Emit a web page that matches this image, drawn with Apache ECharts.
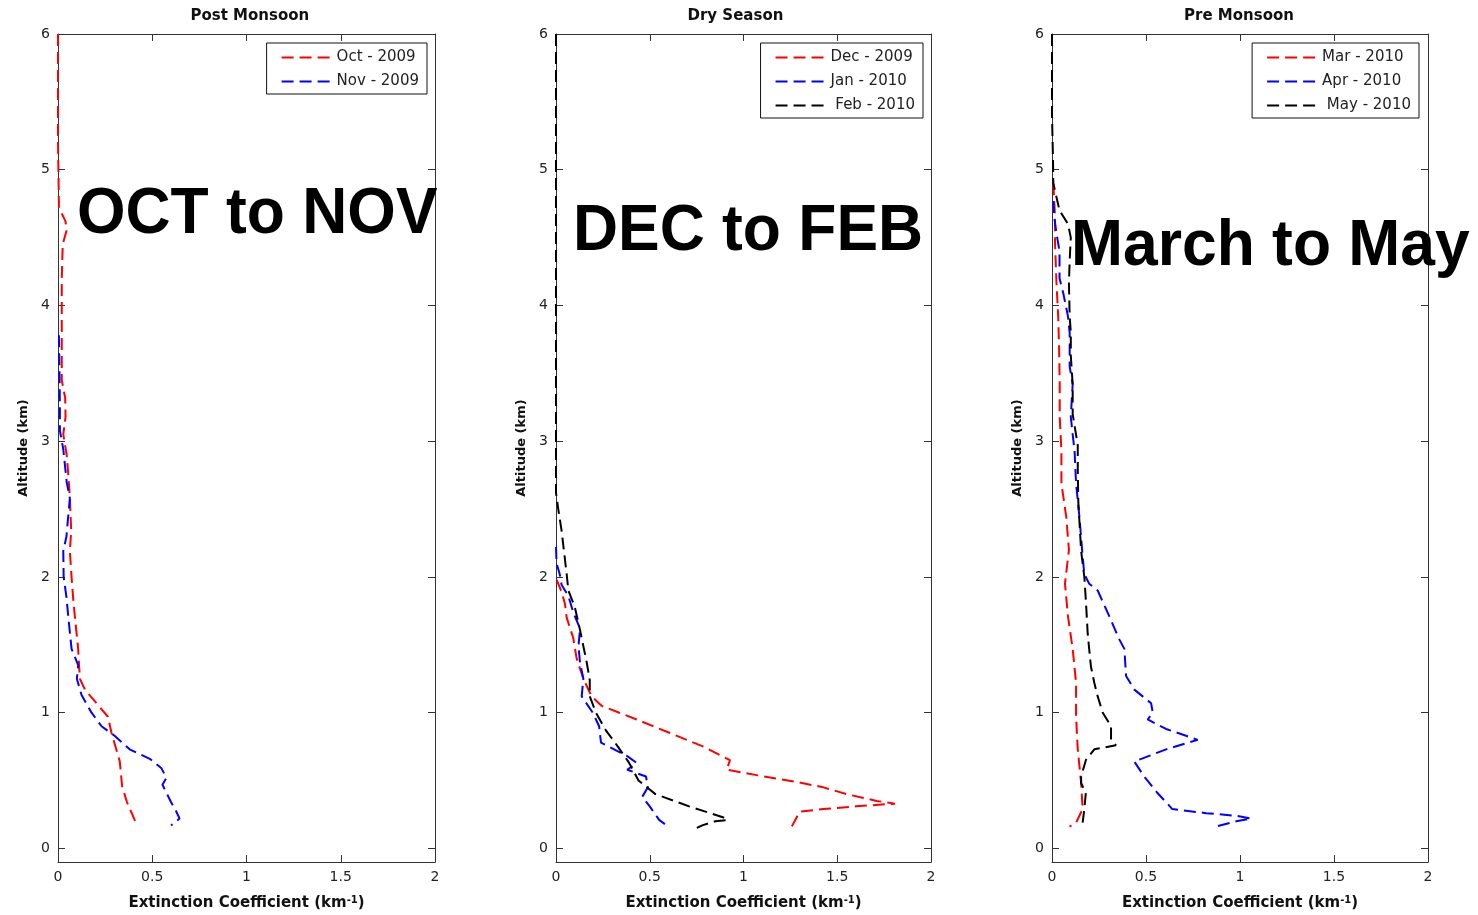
<!DOCTYPE html>
<html>
<head>
<meta charset="utf-8">
<script src="https://cdn.jsdelivr.net/npm/echarts@6/dist/echarts.min.js"></script>
<style>
  html, body { margin: 0; padding: 0; background: #fff; }
  #main { width: 1478px; height: 915px; }
</style>
</head>
<body>
<div id="main"></div>
<script type="text/javascript">
  // ticks and labels
  var xTicks = [0, 0.5, 1, 1.5, 2];
  var yTicks = [0, 1, 2, 3, 4, 5, 6];
  var panelTitles = ['Post Monsoon', 'Dry Season', 'Pre Monsoon'];
  var bigLabels = ['OCT to NOV', 'DEC to FEB', 'March to May'];

  // [extinction, altitude], top to bottom
  var oct2009 = [[0,6],[0,5.2],[0.005,4.72],[0.04,4.62],[0.045,4.55],[0.025,4.45],[0.02,4.2],[0.02,3.8],[0.02,3.45],[0.038,3.32],[0.04,3.18],[0.028,3.05],[0.046,2.9],[0.055,2.75],[0.063,2.58],[0.07,2.34],[0.063,2.19],[0.072,2.0],[0.08,1.85],[0.09,1.7],[0.107,1.47],[0.116,1.25],[0.143,1.17],[0.265,0.97],[0.284,0.85],[0.328,0.64],[0.34,0.46],[0.366,0.34],[0.416,0.18]];
  var nov2009 = [[0.005,3.78],[0.008,3.5],[0.01,3.25],[0.01,3.08],[0.028,2.94],[0.046,2.7],[0.063,2.58],[0.055,2.46],[0.045,2.3],[0.028,2.19],[0.03,2.0],[0.045,1.85],[0.055,1.7],[0.072,1.47],[0.107,1.35],[0.1,1.25],[0.125,1.13],[0.178,1.0],[0.231,0.9],[0.3,0.83],[0.38,0.73],[0.487,0.66],[0.549,0.59],[0.575,0.52],[0.554,0.47],[0.6,0.34],[0.628,0.27],[0.645,0.22],[0.6,0.17]];

  var dec2009 = [[0.003,1.98],[0.03,1.89],[0.048,1.8],[0.057,1.7],[0.092,1.55],[0.11,1.4],[0.146,1.25],[0.19,1.12],[0.244,1.05],[0.43,0.95],[0.608,0.85],[0.786,0.75],[0.928,0.65],[0.91,0.58],[1.07,0.54],[1.284,0.49],[1.426,0.45],[1.55,0.4],[1.71,0.35],[1.808,0.33],[1.6,0.31],[1.426,0.29],[1.3,0.27],[1.284,0.23],[1.257,0.16]];
  var jan2010 = [[0,2.22],[0.003,2.1],[0.02,2.02],[0.03,1.94],[0.066,1.86],[0.092,1.74],[0.128,1.62],[0.12,1.49],[0.128,1.37],[0.146,1.25],[0.137,1.12],[0.196,1.0],[0.23,0.9],[0.24,0.78],[0.31,0.73],[0.38,0.68],[0.43,0.63],[0.38,0.58],[0.48,0.53],[0.49,0.45],[0.46,0.38],[0.5,0.31],[0.55,0.21],[0.6,0.16]];
  var feb2010 = [[0,6],[0,4],[0,2.62],[0.012,2.5],[0.03,2.34],[0.04,2.22],[0.057,2.02],[0.066,1.9],[0.1,1.78],[0.128,1.61],[0.146,1.49],[0.164,1.37],[0.18,1.24],[0.18,1.12],[0.213,1.0],[0.266,0.87],[0.33,0.75],[0.39,0.63],[0.44,0.5],[0.53,0.4],[0.71,0.31],[0.89,0.23],[0.915,0.21],[0.85,0.2],[0.78,0.17],[0.75,0.15]];

  var mar2010 = [[0.007,4.9],[0.016,4.66],[0.016,4.46],[0.024,4.16],[0.033,3.92],[0.038,3.67],[0.041,3.42],[0.041,3.18],[0.05,2.93],[0.05,2.69],[0.076,2.44],[0.09,2.2],[0.069,1.95],[0.085,1.71],[0.11,1.47],[0.128,1.22],[0.128,0.97],[0.137,0.73],[0.155,0.48],[0.163,0.29],[0.128,0.19],[0.093,0.16]];
  var apr2010 = [[0.007,4.77],[0.012,4.65],[0.024,4.53],[0.04,4.4],[0.04,4.2],[0.06,4.09],[0.085,3.92],[0.094,3.8],[0.094,3.55],[0.11,3.42],[0.1,3.18],[0.11,3.05],[0.12,2.93],[0.128,2.69],[0.146,2.44],[0.163,2.15],[0.172,2.02],[0.198,1.95],[0.243,1.9],[0.305,1.71],[0.358,1.54],[0.385,1.47],[0.394,1.27],[0.438,1.17],[0.527,1.07],[0.536,1.0],[0.509,0.95],[0.607,0.88],[0.713,0.83],[0.775,0.8],[0.607,0.73],[0.438,0.64],[0.49,0.53],[0.56,0.41],[0.64,0.29],[0.82,0.26],[0.98,0.24],[1.06,0.22],[0.98,0.2],[0.87,0.16]];
  var may2010 = [[0,6],[0,5.4],[0.005,5.1],[0.007,4.9],[0.04,4.7],[0.085,4.6],[0.1,4.5],[0.094,4.33],[0.09,4.16],[0.094,3.92],[0.1,3.8],[0.1,3.63],[0.11,3.42],[0.11,3.2],[0.137,2.97],[0.137,2.8],[0.14,2.55],[0.155,2.19],[0.172,2.0],[0.18,1.83],[0.19,1.58],[0.207,1.34],[0.225,1.22],[0.243,1.12],[0.27,1.0],[0.314,0.9],[0.314,0.8],[0.34,0.76],[0.225,0.73],[0.18,0.65],[0.155,0.53],[0.155,0.48],[0.18,0.41],[0.172,0.29],[0.163,0.19]];

  var panels = [
    { names: ['Oct - 2009', 'Nov - 2009'], data: [oct2009, nov2009] },
    { names: ['Dec - 2009', 'Jan - 2010', ' Feb - 2010'], data: [dec2009, jan2010, feb2010] },
    { names: ['Mar - 2010', 'Apr - 2010', ' May - 2010'], data: [mar2010, apr2010, may2010] }
  ];
  var colors = ['#ff0000', '#0000ff', '#000000'];

  // layout
  var gridLeft = [58, 556, 1052];
  var gridWidth = [377, 375, 376];
  var legendRight = [1051, 555, 59];
  var bigX = [77, 573, 1071];
  var bigY = [183, 200, 215];
  var font = '"Liberation Sans", Arial, sans-serif';
  var labelFont = '"DejaVu Sans", sans-serif';
  var axisColor = '#333';

  var grid = [], xAxis = [], yAxis = [], series = [], legend = [], title = [], graphic = [];
  for (var i = 0; i < 3; i++) {
    grid.push({ left: gridLeft[i], width: gridWidth[i], top: 34, height: 828, containLabel: false, outerBoundsMode: 'none' });
    title.push({
      text: panelTitles[i], left: gridLeft[i] + gridWidth[i] / 2 - 61, top: 4,
      textStyle: { fontFamily: labelFont, fontSize: 15, fontWeight: 'bold', color: '#111' }
    });
    var tickStyle = { show: true, inside: true, length: 7, lineStyle: { color: axisColor } };
    xAxis.push({
      gridIndex: i, type: 'value', position: 'bottom', min: 0, max: 2, interval: 0.5,
      axisLine: { onZero: false, lineStyle: { color: axisColor, width: 1 } },
      axisTick: tickStyle,
      axisLabel: { color: '#222', fontFamily: labelFont, fontSize: 14, margin: 8, customValues: xTicks },
      splitLine: { show: false },
      name: 'Extinction Coefficient (km{sup|-1})', nameLocation: 'middle', nameGap: 33,
      nameTextStyle: {
        fontFamily: labelFont, fontSize: 15, fontWeight: 'bold', color: '#111',
        rich: { sup: { fontFamily: labelFont, fontSize: 10, fontWeight: 'bold', color: '#111', verticalAlign: 'top', padding: [0, 0, 6, 0] } }
      }
    });
    xAxis.push({
      gridIndex: i, type: 'value', position: 'top', min: 0, max: 2, interval: 0.5,
      axisLine: { onZero: false, lineStyle: { color: axisColor, width: 1 } },
      axisTick: tickStyle, axisLabel: { show: false }, splitLine: { show: false }
    });
    yAxis.push({
      gridIndex: i, type: 'value', position: 'left', min: -0.1, max: 6,
      axisLine: { onZero: false, lineStyle: { color: axisColor, width: 1 } },
      axisTick: { show: true, inside: true, length: 7, lineStyle: { color: axisColor }, customValues: yTicks },
      axisLabel: { color: '#222', fontFamily: labelFont, fontSize: 14, margin: 8, customValues: yTicks },
      splitLine: { show: false },
      name: 'Altitude (km)', nameLocation: 'middle', nameGap: 28, nameRotate: 90,
      nameTextStyle: { fontFamily: labelFont, fontSize: 13, fontWeight: 'bold', color: '#111' }
    });
    yAxis.push({
      gridIndex: i, type: 'value', position: 'right', min: -0.1, max: 6,
      axisLine: { onZero: false, lineStyle: { color: axisColor, width: 1 } },
      axisTick: { show: true, inside: true, length: 7, lineStyle: { color: axisColor }, customValues: yTicks },
      axisLabel: { show: false }, splitLine: { show: false }
    });
    var p = panels[i];
    for (var k = 0; k < p.names.length; k++) {
      series.push({
        name: p.names[k], type: 'line', xAxisIndex: i * 2, yAxisIndex: i * 2,
        data: p.data[k], symbol: 'none', color: colors[k],
        lineStyle: { color: colors[k], width: 2, type: [12, 6] },
        animation: false
      });
    }
    legend.push({
      data: p.names, orient: 'vertical', right: legendRight[i], top: 43,
      backgroundColor: '#fff', borderColor: '#111', borderWidth: 1, borderRadius: 0,
      padding: [7, 8, 5, 14], itemWidth: 50, itemHeight: 17, itemGap: 9,
      itemStyle: { opacity: 0 },
      textStyle: { fontFamily: labelFont, fontSize: 15, color: '#222' },
      selectedMode: false
    });
    graphic.push({
      type: 'text', x: bigX[i], y: bigY[i], scaleX: 0.96, z: 100,
      style: { text: bigLabels[i], font: 'bold 65px ' + font, fill: '#000' }
    });
  }

  var myChart = echarts.init(document.getElementById('main'));
  var option = {
    backgroundColor: '#fff',
    animation: false,
    title: title,
    grid: grid,
    xAxis: xAxis,
    yAxis: yAxis,
    legend: legend,
    series: series,
    graphic: graphic
  };
  myChart.setOption(option);
</script>
</body>
</html>
